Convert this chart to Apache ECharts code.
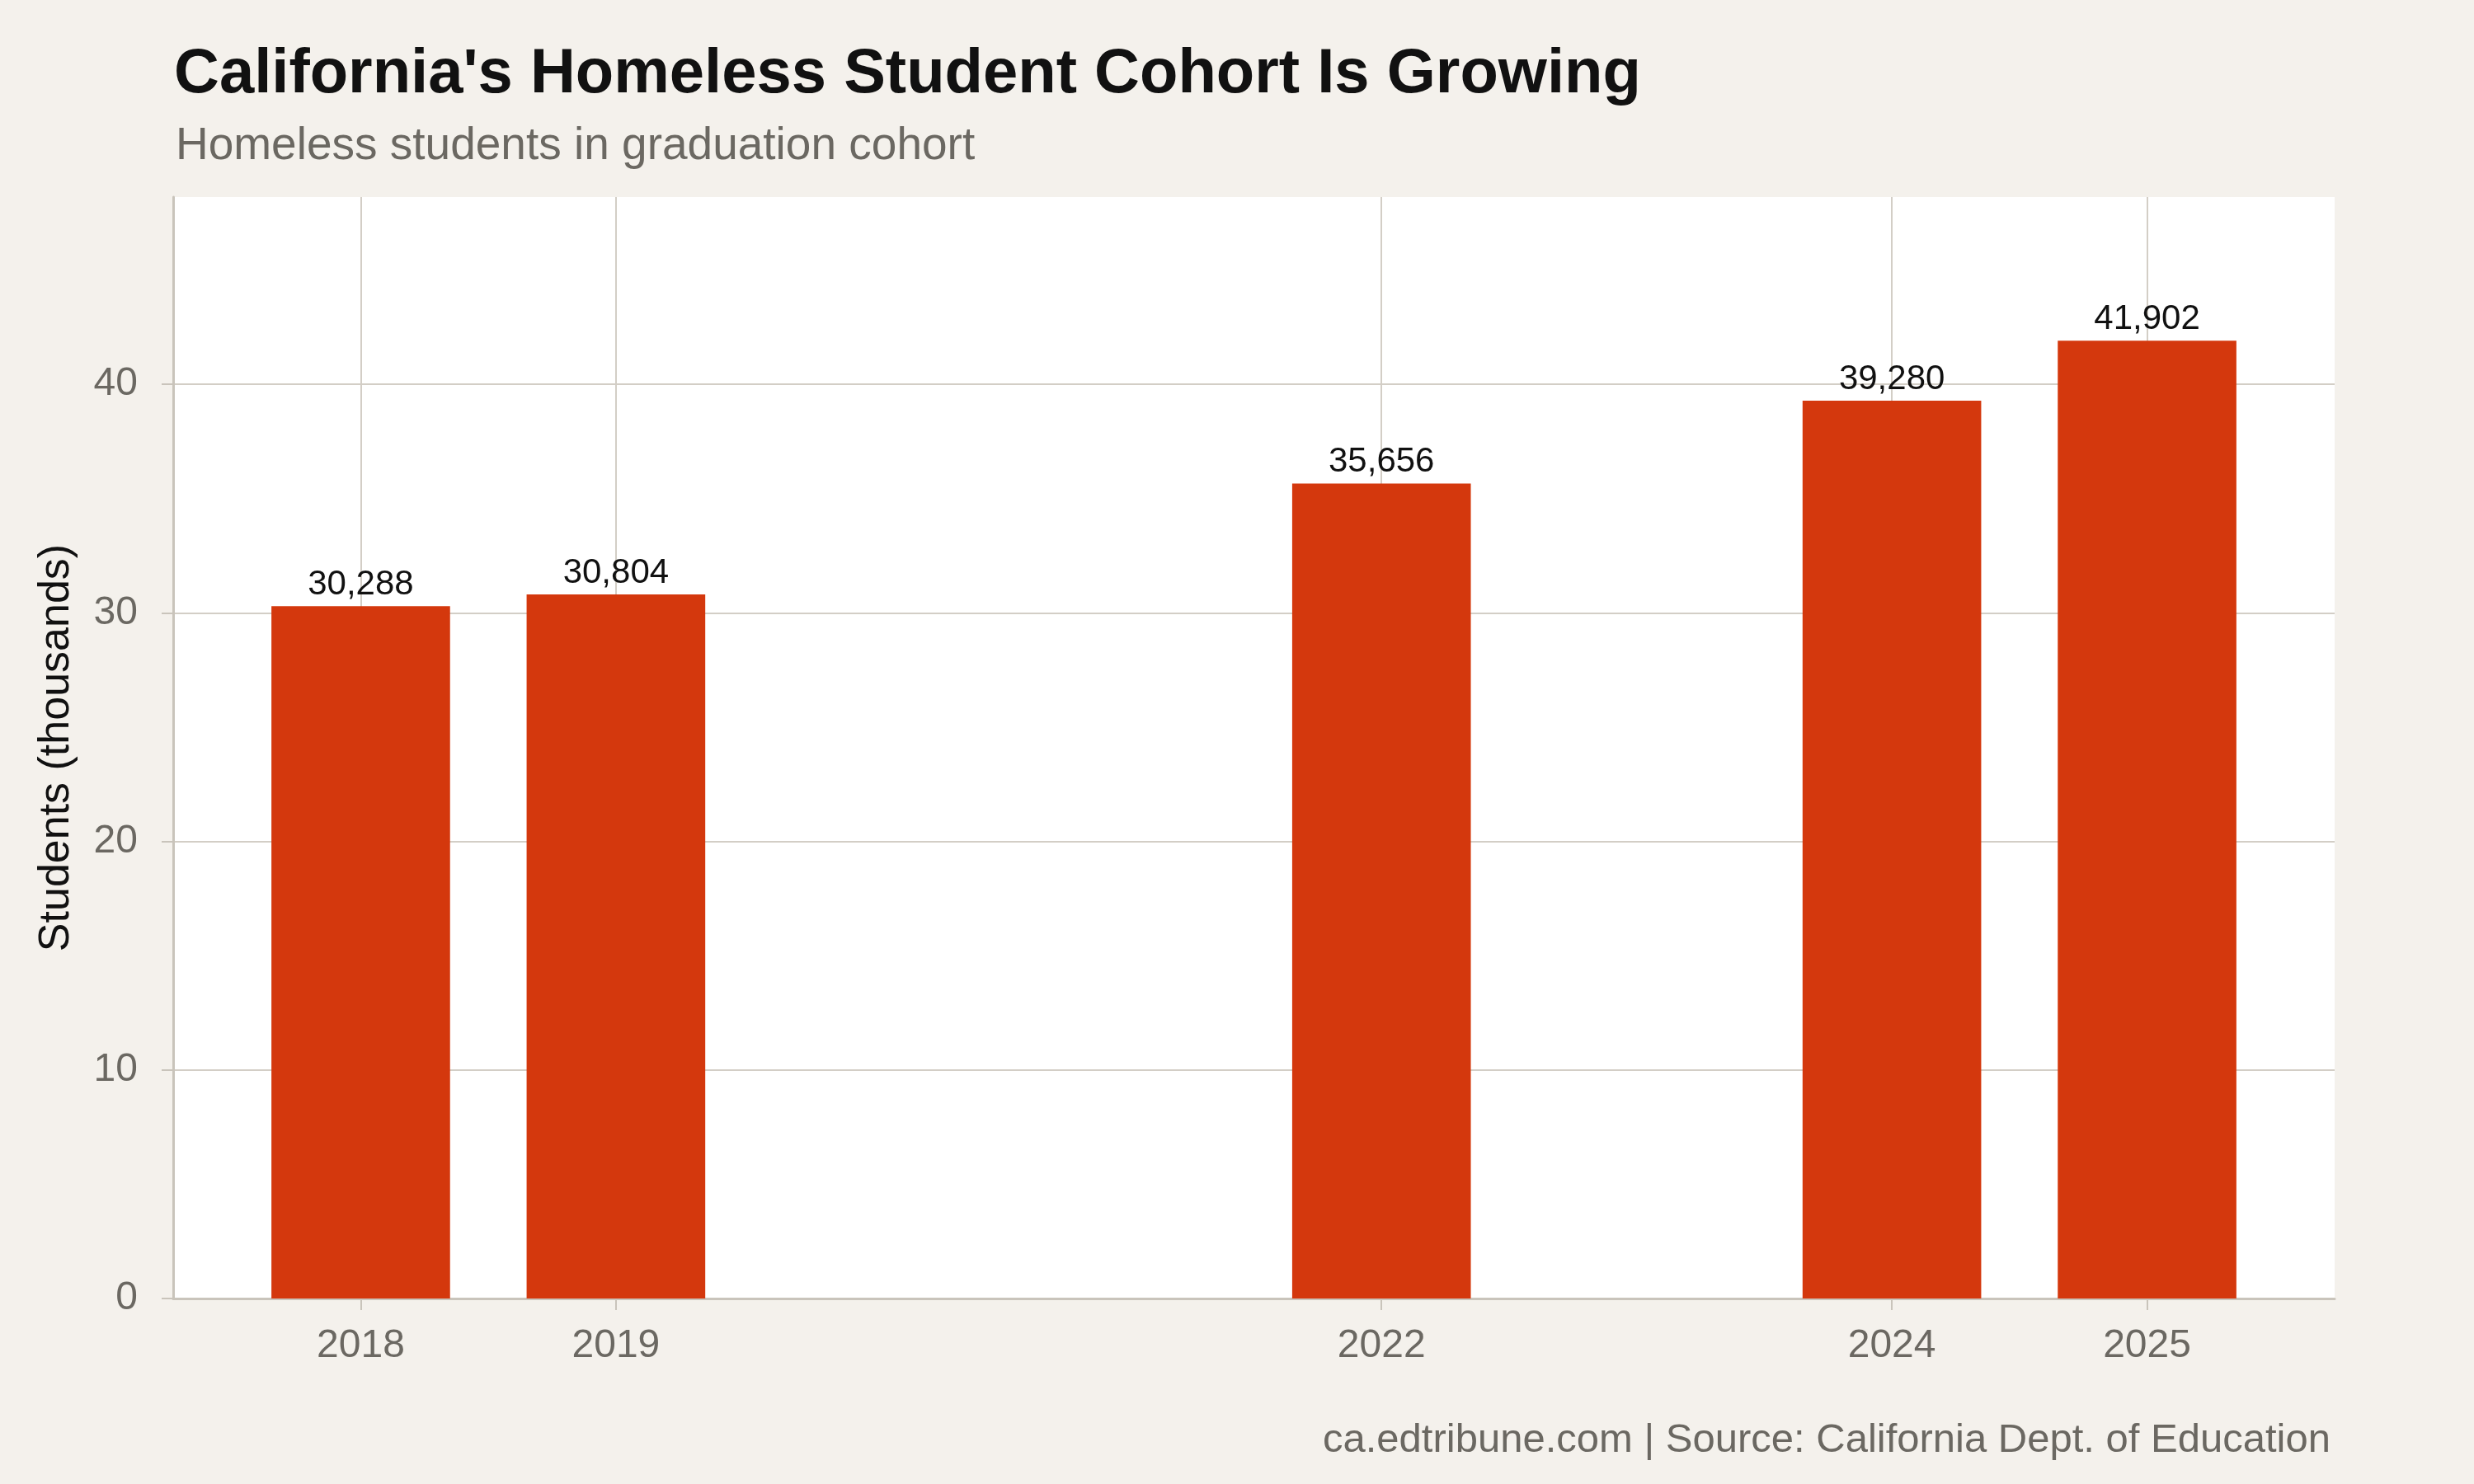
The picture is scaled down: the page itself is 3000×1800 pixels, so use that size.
<!DOCTYPE html>
<html>
<head>
<meta charset="utf-8">
<title>California's Homeless Student Cohort Is Growing</title>
<script src="https://cdn.jsdelivr.net/npm/echarts@6/dist/echarts.min.js"></script>
<style>
  html, body { margin: 0; padding: 0; background: #f4f1ec; }
  #chart { width: 3000px; height: 1800px; }
</style>
</head>
<body>
<div id="chart"></div>
<script>
// data
var years = [2018, 2019, 2022, 2024, 2025];
var students = [30288, 30804, 35656, 39280, 41902];
var yTicks = [0, 10, 20, 30, 40];

var font = '"Liberation Sans", Arial, Helvetica, sans-serif';
var gridLeft = 210, gridRight = 169, gridTop = 239, gridBottom = 225;
var xMin = 2017.265, xMax = 2025.735;
var barW = (3000 - gridLeft - gridRight) * 0.7 / (xMax - xMin);

var chart = echarts.init(document.getElementById('chart'));

var option = {
  backgroundColor: '#f4f1ec',
  animation: false,
  title: [{
    text: "California's Homeless Student Cohort Is Growing",
    left: 206, top: 48,
    textStyle: { fontFamily: font, fontSize: 76, fontWeight: 'bold', color: '#111' }
  }, {
    text: 'Homeless students in graduation cohort',
    left: 208, top: 145,
    textStyle: { fontFamily: font, fontSize: 55, fontWeight: 'normal', color: '#6b6862' }
  }, {
    text: 'ca.edtribune.com | Source: California Dept. of Education',
    right: 169, top: 1718,
    textStyle: { fontFamily: font, fontSize: 49, fontWeight: 'normal', color: '#6b6862' }
  }],
  grid: {
    left: gridLeft, right: gridRight, top: gridTop, bottom: gridBottom,
    show: true, backgroundColor: '#ffffff', borderWidth: 0
  },
  xAxis: {
    type: 'value',
    min: xMin, max: xMax,
    axisLine: { show: true, onZero: false, lineStyle: { color: '#c9c4bb', width: 3 } },
    axisTick: { show: true, customValues: years, length: 14, lineStyle: { color: '#c9c4bb', width: 2 } },
    axisLabel: {
      customValues: years, margin: 34,
      fontFamily: font, fontSize: 48, color: '#6b6862',
      formatter: function (v) { return String(v); }
    },
    splitLine: { show: true, lineStyle: { color: '#d3cec6', width: 2 } }
  },
  yAxis: {
    type: 'value',
    min: 0, max: 48.19,
    name: 'Students (thousands)',
    nameLocation: 'middle', nameGap: 115,
    nameTextStyle: { fontFamily: font, fontSize: 52, color: '#111' },
    axisLine: { show: true, lineStyle: { color: '#c9c4bb', width: 3 } },
    axisTick: { show: true, customValues: yTicks, length: 14, lineStyle: { color: '#c9c4bb', width: 2 } },
    axisLabel: { customValues: yTicks, margin: 43, fontFamily: font, fontSize: 48, color: '#6b6862' },
    splitLine: { show: true, lineStyle: { color: '#d3cec6', width: 2 } }
  },
  series: [{
    type: 'bar',
    barWidth: barW,
    data: years.map(function (y, i) { return [y, students[i] / 1000]; }),
    itemStyle: { color: '#d4380d' },
    label: {
      show: true, position: 'top', distance: 5,
      fontFamily: font, fontSize: 42, color: '#111',
      formatter: function (p) { return students[p.dataIndex].toLocaleString('en-US'); }
    }
  }]
};

chart.setOption(option);
</script>
</body>
</html>
